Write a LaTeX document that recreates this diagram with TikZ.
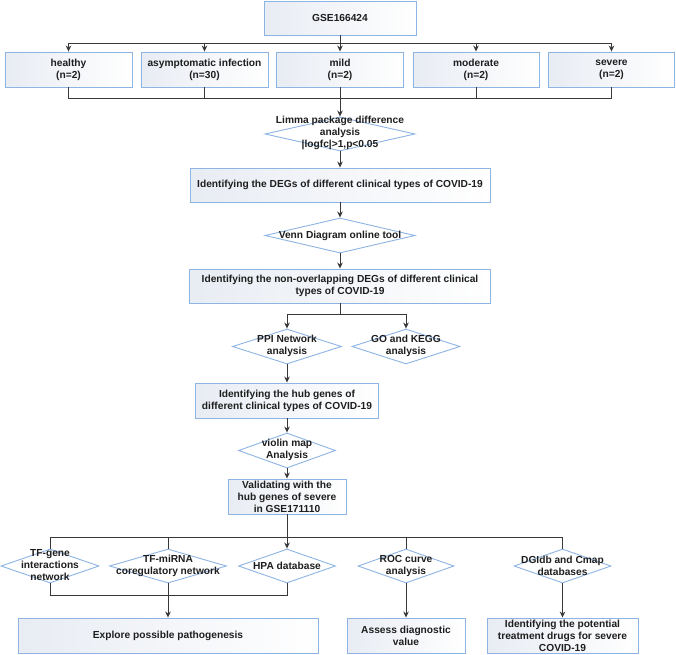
\documentclass[tikz,border=0pt]{standalone}
\usepackage{fontspec}
\setmainfont{Liberation Sans}
\usetikzlibrary{arrows.meta,shapes.geometric}
\definecolor{bordblue}{HTML}{8DB4E2}
\definecolor{boxshade}{HTML}{E8ECF3}
\definecolor{txt}{HTML}{1E1E1E}
\definecolor{lin}{HTML}{383838}
\begin{document}
\begin{tikzpicture}[x=1pt,y=-1pt,
  every node/.style={font=\fontsize{10.2}{12}\selectfont\bfseries, text=txt},
  pbox/.style={draw=bordblue, line width=0.9pt, left color=boxshade, right color=white, inner sep=0pt, align=center},
  dia/.style={diamond, draw=bordblue, fill=white, line width=0.9pt, inner sep=0pt},
  dtext/.style={align=center, inner sep=0pt},
  conn/.style={draw=lin, line width=1pt},
  arr/.style={conn, -{Stealth[length=6pt,width=5.5pt]}}
]
\fill[white] (0,0) rectangle (676,654);
\useasboundingbox (0,0) rectangle (676,654);

% top
\node[pbox, minimum width=152pt, minimum height=34pt] (gse) at (340,18) {GSE166424};
\node[pbox, minimum width=127pt, minimum height=35pt] (healthy) at (68.5,69.5) {healthy\\(n=2)};
\node[pbox, minimum width=127pt, minimum height=35pt] (asym) at (204.5,69.5) {asymptomatic infection\\(n=30)};
\node[pbox, minimum width=127pt, minimum height=35pt] (mild) at (340,69.5) {mild\\(n=2)};
\node[pbox, minimum width=126pt, minimum height=35pt] (moderate) at (476,69.5) {moderate\\(n=2)};
\node[pbox, minimum width=126pt, minimum height=35pt] (severe) at (611.5,69.5) {severe\\(n=2)};

\coordinate (tb) at (340,43);
\coordinate (bb) at (340,98);
\draw[conn] (gse.south) -- (tb);
\draw[conn] (healthy.north |- tb) -- (severe.north |- tb);
\foreach \n in {healthy,asym,mild,moderate,severe}{
  \draw[arr] (\n.north |- tb) -- (\n.north);
}
\draw[conn] (healthy.south) -- (healthy.south |- bb) -- (severe.south |- bb) -- (severe.south);
\draw[conn] (asym.south) -- (asym.south |- bb);
\draw[conn] (moderate.south) -- (moderate.south |- bb);

% middle
\node[dia, minimum width=150pt, minimum height=34pt] (limma) at (340,134) {};
\node[dtext] (limmaT) at (340,133) {Limma package difference\\analysis\\|logfc|>1,p<0.05};
\draw[arr] (mild.south) -- (limma.north);

\node[pbox, minimum width=300pt, minimum height=34pt] (degs) at (340,185) {Identifying the DEGs of different clinical types of COVID-19};
\draw[arr] (limma.south) -- (degs.north);

\node[dia, minimum width=150pt, minimum height=35pt] (venn) at (340,235.5) {};
\node[dtext] (vennT) at (340,236) {Venn Diagram online tool};
\draw[arr] (degs.south) -- (venn.north);

\node[pbox, minimum width=301pt, minimum height=34pt] (nono) at (340,286) {Identifying the non-overlapping DEGs of different clinical\\types of COVID-19};
\draw[arr] (venn.south) -- (nono.north);

\node[dia, minimum width=109pt, minimum height=35pt] (ppi) at (287,346.5) {};
\node[dtext] (ppiT) at (287,346) {PPI Network\\analysis};
\node[dia, minimum width=108pt, minimum height=35pt] (go) at (406,346.5) {};
\node[dtext] (goT) at (406,345.5) {GO and KEGG\\analysis};
\coordinate (sp) at (340,314);
\draw[conn] (nono.south) -- (sp);
\draw[arr] (sp) -| (ppi.north);
\draw[arr] (sp) -| (go.north);

\node[pbox, minimum width=183pt, minimum height=35pt] (hub) at (287,400.5) {Identifying the hub genes of\\different clinical types of COVID-19};
\draw[arr] (ppi.south) -- (hub.north);

\node[dia, minimum width=97pt, minimum height=35pt] (violin) at (287,450.5) {};
\node[dtext] (violinT) at (287,450) {violin map\\Analysis};
\draw[arr] (hub.south) -- (violin.north);

\node[pbox, minimum width=118pt, minimum height=35pt] (valid) at (287,496.5) {Validating with the\\hub genes of severe\\in GSE171110};
\draw[arr] (violin.south) -- (valid.north);

% bottom
\node[dia, minimum width=98pt, minimum height=34pt] (tfg) at (50,566) {};
\node[dtext] (tfgT) at (50,565.5) {TF-gene\\interactions\\network};
\node[dia, minimum width=117pt, minimum height=34pt] (tfm) at (168,566) {};
\node[dtext] (tfmT) at (168,566) {TF-miRNA\\coregulatory network};
\node[dia, minimum width=97pt, minimum height=34pt] (hpa) at (287,566) {};
\node[dtext] (hpaT) at (287,566) {HPA database};
\node[dia, minimum width=96pt, minimum height=34pt] (roc) at (406,566) {};
\node[dtext] (rocT) at (406,566) {ROC curve\\analysis};
\node[dia, minimum width=97pt, minimum height=34pt] (dgi) at (562.5,566) {};
\node[dtext] (dgiT) at (562.5,566) {DGIdb and Cmap\\databases};

\coordinate (vb) at (287,537);
\draw[conn] (valid.south) -- (vb);
\draw[arr] (vb) -- (hpa.north);
\draw[conn] (tfg.north) -- (tfg.north |- vb) -- (dgi.north |- vb) -- (dgi.north);
\draw[conn] (tfm.north) -- (tfm.north |- vb);
\draw[conn] (roc.north) -- (roc.north |- vb);

\node[pbox, minimum width=300pt, minimum height=35pt] (explore) at (168,635.5) {Explore possible pathogenesis};
\node[pbox, minimum width=118pt, minimum height=35pt] (assess) at (406,635.5) {Assess diagnostic\\value};
\node[pbox, minimum width=151pt, minimum height=35pt] (treat) at (562.5,635.5) {Identifying the potential\\treatment drugs for severe\\COVID-19};

\coordinate (lb) at (168,595);
\draw[conn] (tfg.south) -- (tfg.south |- lb) -- (hpa.south |- lb) -- (hpa.south);
\draw[arr] (tfm.south) -- (explore.north);
\draw[arr] (roc.south) -- (assess.north);
\draw[arr] (dgi.south) -- (treat.north);
\end{tikzpicture}
\end{document}
